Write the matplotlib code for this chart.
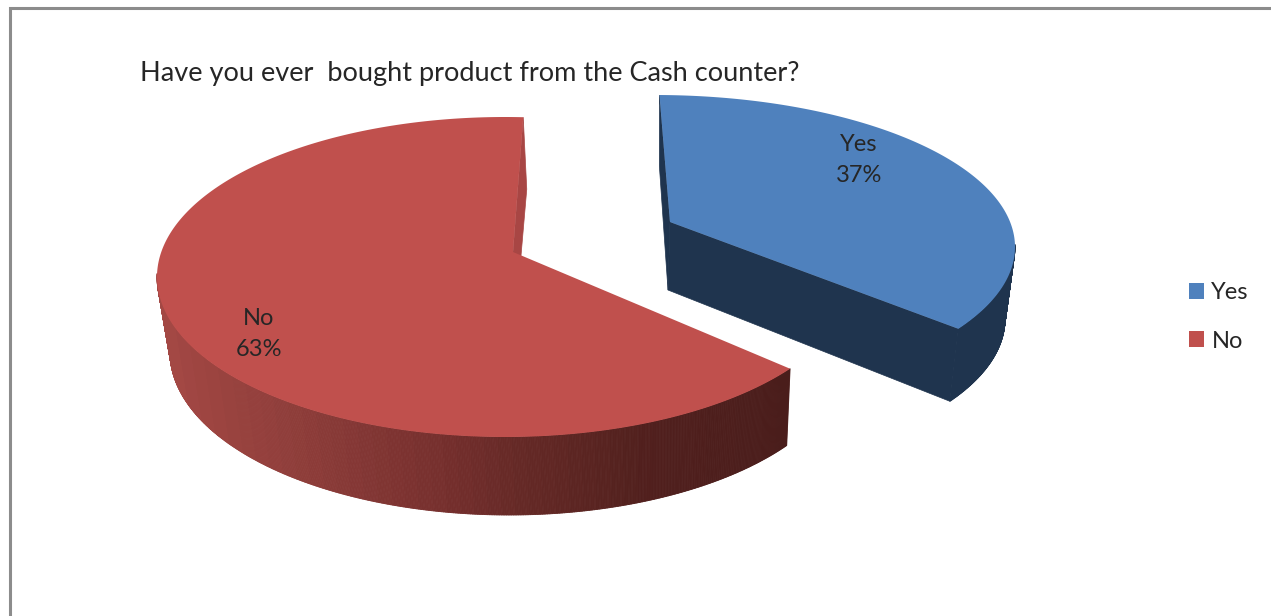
import numpy as np
import matplotlib
matplotlib.use("Agg")
import matplotlib.pyplot as plt
from matplotlib.collections import PolyCollection
from matplotlib.colors import to_rgb
from matplotlib.patches import Patch, Polygon

title = "Have you ever  bought product from the Cash counter?"
categories = ["Yes", "No"]
shares = [37, 63]

BLUE = "#4f81bd"
RED = "#c0504d"
BLUE_SIDE = "#1f344e"
RED_CUT = "#a84644"
TEXT = "#262626"
BAND = 14  # width of one shade band on the wall

plt.rcParams["font.family"] = ["Lato", "DejaVu Sans"]


def rim_points(angles, apex, center, radii):
    # rays leave the projected centre of the disc and stop on the unit circle
    ang = np.radians(angles)
    d = np.column_stack([np.sin(ang), np.cos(ang)])
    p = np.array([(apex[0] - center[0]) / radii[0], (center[1] - apex[1]) / radii[1]])
    pd = d @ p
    s = -pd + np.sqrt(pd ** 2 - p @ p + 1)
    return p + d * s[:, None]


def to_pixels(unit, center, radii):
    return np.column_stack([center[0] + radii[0] * unit[:, 0], center[1] - radii[1] * unit[:, 1]])


def side_colors(x, side):
    if isinstance(side, str):
        return [side] * len(x)
    stops = np.array([s[0] for s in side])
    rgb = np.array([to_rgb(s[1]) for s in side])
    banded = np.round(x / BAND) * BAND
    return np.column_stack([np.interp(banded, stops, rgb[:, i]) for i in range(3)])


def draw_slice(ax, start, end, color, side, cut, top, low, faces):
    angles = np.arange(start, end + 0.25, 0.25)
    unit = rim_points(angles, top["apex"], top["center"], top["radii"])
    upper = to_pixels(unit, top["center"], top["radii"])
    lower = to_pixels(unit, low["center"], low["radii"])

    # inner cut faces
    for k in faces:
        ax.add_patch(Polygon([top["apex"], upper[k], lower[k], low["apex"]],
                             fc=cut, ec=cut, lw=0.5))

    # outer wall, only the front half of the rim can be seen
    front = np.where(unit[:-1, 1] < 0.02)[0]
    quads = [[upper[i], upper[i + 1], lower[i + 1], lower[i]] for i in front]
    colors = side_colors((upper[front, 0] + upper[front + 1, 0]) / 2, side)
    ax.add_collection(PolyCollection(quads, facecolors=colors, edgecolors=colors, linewidths=0.6))

    ax.add_patch(Polygon(np.vstack([[top["apex"]], upper]), fc=color, ec="none"))


fig = plt.figure(figsize=(12.71, 6.16), dpi=100, facecolor="white")
ax = fig.add_axes([0, 0, 1, 1])
ax.set_xlim(0, 1271)
ax.set_ylim(616, 0)
ax.axis("off")

# chart frame, open at the right and at the bottom
ax.plot([9.5, 9.5, 1271], [616, 8, 8], color="#8c8c8c", lw=2.2, solid_joinstyle="miter")

cut_points = np.cumsum([0] + shares) / sum(shares) * 360

yes_top = {"apex": (670, 222), "center": (655, 247), "radii": (360, 152)}
yes_low = {"apex": (668, 290), "center": (655, 319), "radii": (350, 153)}
no_top = {"apex": (513, 252), "center": (505, 277), "radii": (348, 160)}
no_low = {"apex": (515, 325), "center": (509, 352), "radii": (339, 163)}

wall_shade = [(165, "#a34844"), (300, "#8d3c39"), (440, "#762f2d"), (520, "#652926"),
              (650, "#501f1d"), (795, "#4a1d1b")]

draw_slice(ax, cut_points[0] - 2, cut_points[1] - 2, BLUE, BLUE_SIDE, BLUE_SIDE,
           yes_top, yes_low, (0, -1))
draw_slice(ax, cut_points[1] - 0.7, cut_points[2] + 2, RED, wall_shade, RED_CUT,
           no_top, no_low, (-1,))

ax.text(140, 81, title, fontsize=19.5, color=TEXT, ha="left", va="baseline")

label_spots = [(859, 160), (259, 334)]
for cat, share, spot in zip(categories, shares, label_spots):
    ax.text(spot[0], spot[1], f"{cat}\n{share}%", fontsize=17, color=TEXT,
            ha="center", va="center", linespacing=1.55)

handles = [Patch(facecolor=BLUE, edgecolor="none"), Patch(facecolor=RED, edgecolor="none")]
ax.legend(handles, categories, loc="center left", bbox_to_anchor=(1168, 317),
          bbox_transform=ax.transData, frameon=False, fontsize=17, labelcolor=TEXT,
          handlelength=0.64, handleheight=0.64, handletextpad=0.3, labelspacing=1.15)

fig.savefig("out.png", dpi=100)
